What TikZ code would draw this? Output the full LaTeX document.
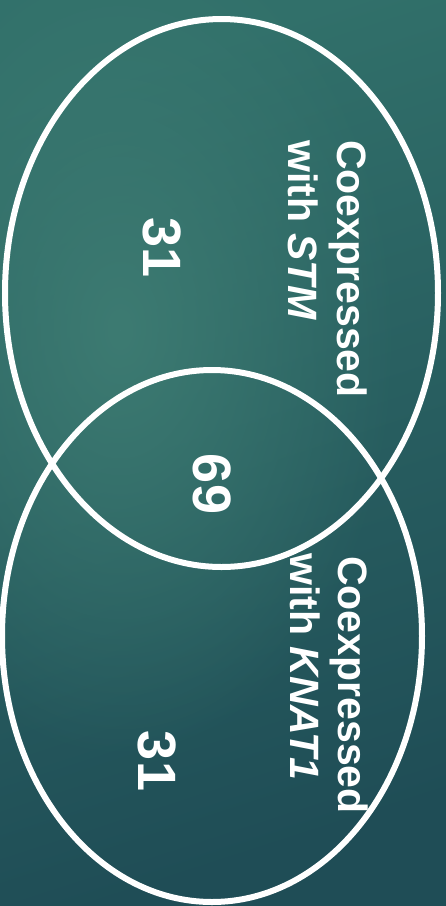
\documentclass[tikz,border=0pt]{standalone}
\usepackage{fontspec}
\setmainfont{Liberation Sans}
\usetikzlibrary{shapes.geometric,fadings}
\definecolor{bgA}{HTML}{31706A}
\definecolor{bgB}{HTML}{1F4D56}
\definecolor{bgHi}{HTML}{3D7B72}
\tikzfading[name=softspot, inner color=transparent!0, outer color=transparent!100]
\begin{document}
\begin{tikzpicture}[x=1pt,y=-1pt,
  venn/.style={draw=white, line width=6pt, ellipse, inner sep=0pt},
  lbl/.style={text=white, font=\fontsize{41}{49}\selectfont\bfseries, rotate=-90, anchor=base west, inner sep=0pt},
  num/.style={text=white, font=\fontsize{54}{60}\selectfont\bfseries, rotate=-90, inner sep=0pt}]
\useasboundingbox (0,0) rectangle (446,906);
\shade[top color=bgA, bottom color=bgB, shading angle=18] (0,0) rectangle (446,906);
\begin{scope}
\clip (0,0) rectangle (446,906);
\fill[bgHi, path fading=softspot, fit fading=true] (120,330) ellipse (280pt and 430pt);
\end{scope}
\node[venn, minimum width=433pt, minimum height=548pt] (stm) at (221.5,293) {};
\node[venn, minimum width=420pt, minimum height=532pt] (knat) at (212,636) {};
\node[lbl] (stm1) at (337,140) {Coexpressed};
\node[lbl] (stm2) at (288,140) {with \textit{STM}};
\node[lbl] (kn1) at (338,556) {Coexpressed};
\node[lbl] (kn2) at (290,553) {with \textit{KNAT1}};
\node[num] (n1) at (162,248) {31};
\node[num] (n2) at (212,484) {69};
\node[num] (n3) at (157,761) {31};
\end{tikzpicture}
\end{document}
